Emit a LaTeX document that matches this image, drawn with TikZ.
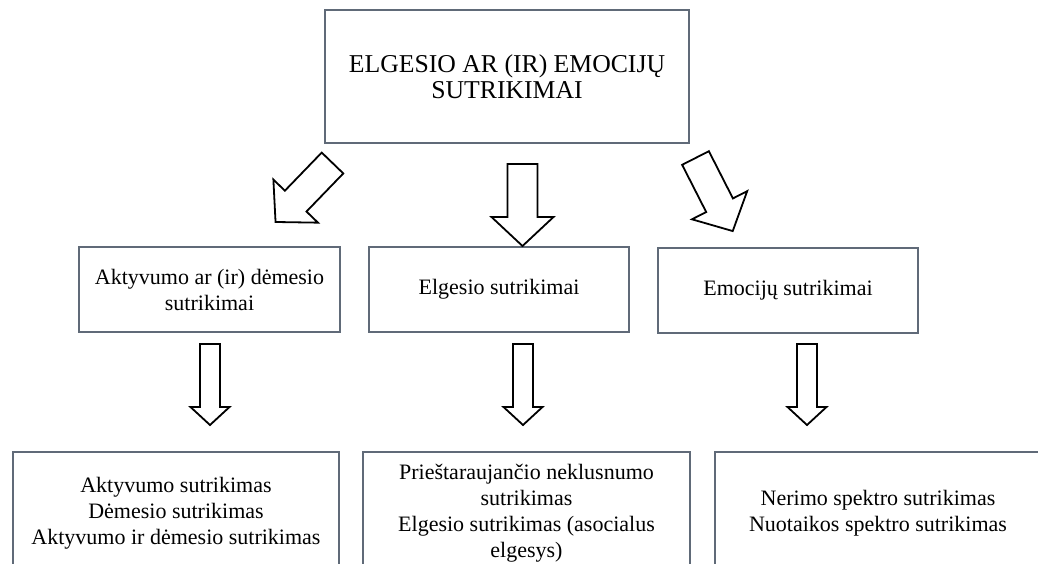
\documentclass[tikz,border=0pt]{standalone}
\usepackage{fontspec}
\setmainfont{Liberation Serif}
\usetikzlibrary{positioning}

\definecolor{boxline}{RGB}{96,106,120}

\tikzset{
  box/.style={draw=boxline, line width=1.2pt, fill=white, align=center, inner sep=0pt,
    font=\fontsize{22}{26}\selectfont},
  arrowline/.style={draw=black, line width=1.8pt, fill=white, line join=miter},
  bigarrow/.pic={
    \draw[arrowline] (0,-15) -- (53,-15) -- (53,-31) -- (82,0) -- (53,31) -- (53,15) -- (0,15) -- cycle;
  },
  smallarrow/.pic={
    \draw[arrowline] (0,-10) -- (63,-10) -- (63,-19.5) -- (81,0) -- (63,19.5) -- (63,10) -- (0,10) -- cycle;
  }
}

\begin{document}
\begin{tikzpicture}[x=1pt, y=1pt]
\useasboundingbox (0,0) rectangle (1038,-563);
\clip (0,0) rectangle (1038,-563);

% top
\node[box, minimum width=364pt, minimum height=133pt, font=\fontsize{25.7}{26}\selectfont]
  (top) at (507,-76.5) {ELGESIO AR (IR) EMOCIJŲ\\SUTRIKIMAI};

% middle row
\node[box, minimum width=261pt, minimum height=85pt] (act) at (209.5,-289.5) {Aktyvumo ar (ir) dėmesio\\sutrikimai};
\node[box, minimum width=260pt, minimum height=85pt] (elg) at (499,-289.5) {Elgesio sutrikimai};
\node[box, minimum width=260pt, minimum height=85pt] (emo) at (788,-290.5) {Emocijų sutrikimai};

% bottom row
\node[box, minimum width=326pt, minimum height=122pt] (actsub) at (176,-513)
  {Aktyvumo sutrikimas\\Dėmesio sutrikimas\\Aktyvumo ir dėmesio sutrikimas};
\node[box, minimum width=327pt, minimum height=122pt] (elgsub) at (526.5,-513)
  {Prieštaraujančio neklusnumo\\sutrikimas\\Elgesio sutrikimas (asocialus\\elgesys)};
\node[box, minimum width=326pt, minimum height=122pt] (emosub) at (878,-513)
  {Nerimo spektro sutrikimas\\Nuotaikos spektro sutrikimas};

% arrows
\pic[rotate=226] at (332.5,-163) {bigarrow};
\pic[rotate=-90] at (522.5,-164) {bigarrow};
\pic[rotate=-63] at (695.5,-158) {bigarrow};

\pic[rotate=-90] at (210,-344) {smallarrow};
\pic[rotate=-90] at (523,-344) {smallarrow};
\pic[rotate=-90] at (807,-344) {smallarrow};
\end{tikzpicture}
\end{document}
